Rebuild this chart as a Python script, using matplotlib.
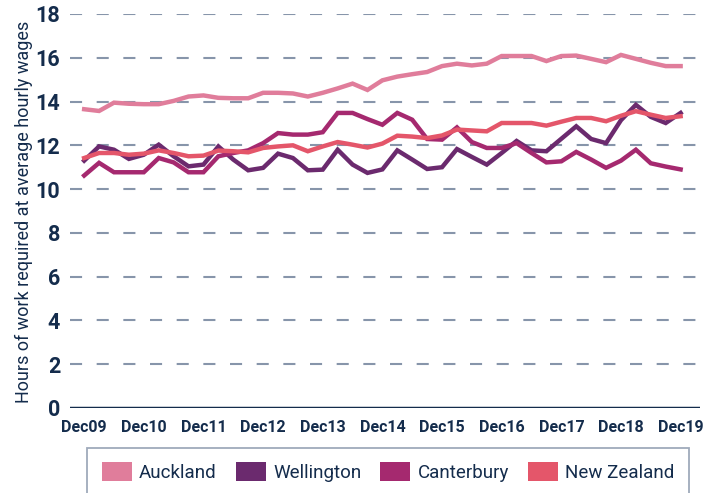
import matplotlib.pyplot as plt
from matplotlib.patches import Patch

# quarterly series, Dec09 .. Dec19
auckland = [13.65, 13.57, 13.95, 13.9, 13.88, 13.88, 14.03, 14.23, 14.28, 14.17,
            14.15, 14.15, 14.4, 14.4, 14.37, 14.23, 14.4, 14.6, 14.82, 14.53,
            14.97, 15.14, 15.25, 15.35, 15.62, 15.73, 15.65, 15.73, 16.08, 16.08,
            16.08, 15.85, 16.08, 16.1, 15.95, 15.8, 16.13, 15.95, 15.77, 15.62,
            15.62]
wellington = [11.3, 11.95, 11.8, 11.38, 11.57, 12.03, 11.5, 11.04, 11.12, 11.95,
              11.35, 10.86, 10.97, 11.62, 11.42, 10.86, 10.89, 11.8, 11.12, 10.74,
              10.9, 11.77, 11.35, 10.92, 11.0, 11.83, 11.47, 11.12, 11.65, 12.2,
              11.77, 11.73, 12.3, 12.87, 12.29, 12.1, 13.15, 13.85, 13.3, 13.02,
              13.48]
canterbury = [10.62, 11.2, 10.77, 10.77, 10.77, 11.42, 11.22, 10.77, 10.77, 11.5,
              11.65, 11.77, 12.1, 12.56, 12.49, 12.49, 12.6, 13.48, 13.48, 13.2,
              12.94, 13.48, 13.17, 12.29, 12.26, 12.82, 12.15, 11.88, 11.88, 12.1,
              11.65, 11.22, 11.27, 11.7, 11.35, 10.97, 11.3, 11.8, 11.18, 11.03,
              10.9]
new_zealand = [11.42, 11.65, 11.65, 11.57, 11.62, 11.77, 11.65, 11.5, 11.53, 11.76,
               11.73, 11.68, 11.88, 11.95, 12.0, 11.73, 11.95, 12.15, 12.03, 11.9,
               12.08, 12.44, 12.4, 12.33, 12.45, 12.72, 12.68, 12.64, 13.02, 13.02,
               13.02, 12.9, 13.08, 13.25, 13.25, 13.1, 13.35, 13.56, 13.4, 13.25,
               13.33]

series = [("Auckland", auckland, "#e07d9b"),
          ("Wellington", wellington, "#6b2a6e"),
          ("Canterbury", canterbury, "#a5296f"),
          ("New Zealand", new_zealand, "#e4566a")]
years = ["Dec09", "Dec10", "Dec11", "Dec12", "Dec13", "Dec14",
         "Dec15", "Dec16", "Dec17", "Dec18", "Dec19"]

navy = "#142c4c"
grid_col = "#8795aa"
font = ["Roboto", "DejaVu Sans"]

fig = plt.figure(figsize=(7.05, 4.93), dpi=100)
ax = fig.add_axes([70 / 705, 1 - 408 / 493, 630 / 705, 394 / 493])

for name, vals, col in series:
    ax.plot(range(len(vals)), vals, color=col, lw=3.2, label=name,
            solid_joinstyle="miter", zorder=3)

# dashed gridlines, solid baseline at zero
for y in range(2, 19, 2):
    ax.axhline(y, color=grid_col, lw=1.5, dashes=(5.8, 7), zorder=1)
ax.axhline(0, color=navy, lw=2.5, zorder=2)

ax.set_xlim(-0.95, 41.3)
ax.set_ylim(0, 18)
ax.set_yticks(range(0, 19, 2))
ax.set_xticks(range(0, 41, 4))
ax.set_xticklabels(years)
for s in ax.spines.values():
    s.set_visible(False)
ax.tick_params(length=0, colors=navy)
ax.tick_params(axis="y", pad=7)
ax.tick_params(axis="x", pad=9)
for lab in ax.get_yticklabels():
    lab.set_family(font)
    lab.set_fontweight("bold")
    lab.set_fontsize(15.5)
for lab in ax.get_xticklabels():
    lab.set_family(font)
    lab.set_fontweight("bold")
    lab.set_fontsize(11.5)

fig.text(24 / 705, 1 - 212 / 493, "Hours of work required at average hourly wages",
         rotation=90, ha="center", va="center", color=navy, fontsize=13,
         family=font)

handles = [Patch(facecolor=c, edgecolor="none", label=n) for n, _, c in series]
leg = fig.legend(handles=handles, loc="center", ncol=4,
                 bbox_to_anchor=(388 / 705, 1 - 472 / 493),
                 frameon=True, fancybox=False, fontsize=13.5,
                 handlelength=1.6, handleheight=1.2, handletextpad=0.4,
                 columnspacing=1.0, borderpad=0.75, borderaxespad=0)
leg.get_frame().set_edgecolor(grid_col)
leg.get_frame().set_linewidth(1.3)
for t in leg.get_texts():
    t.set_color(navy)
    t.set_family(font)

fig.savefig("out.png", dpi=100)
